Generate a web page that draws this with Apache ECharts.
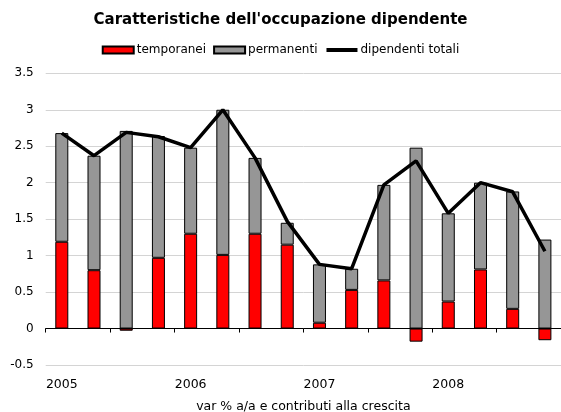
<!DOCTYPE html>
<html>
<head>
<meta charset="utf-8">
<script src="https://cdn.jsdelivr.net/npm/echarts@6/dist/echarts.min.js"></script>
<style>
  html, body { margin: 0; padding: 0; background: #fff; }
  #chart { width: 561px; height: 412px; }
</style>
</head>
<body>
<div id="chart"></div>
<script>
// Quarterly periods 2005 Q1 – 2008 Q4
const quarters = [
  '2005 T1', '2005 T2', '2005 T3', '2005 T4',
  '2006 T1', '2006 T2', '2006 T3', '2006 T4',
  '2007 T1', '2007 T2', '2007 T3', '2007 T4',
  '2008 T1', '2008 T2', '2008 T3', '2008 T4'
];
// Year shown under the first quarter of each year
const yearLabels = ['2005', '', '', '', '2006', '', '', '', '2007', '', '', '', '2008', '', '', ''];

// Contributions to growth (percentage points)
const temporanei = [1.19, 0.80, -0.03, 0.97, 1.30, 1.01, 1.30, 1.15, 0.08, 0.53, 0.66, -0.18, 0.37, 0.81, 0.27, -0.16];
const permanenti = [1.49, 1.57, 2.71, 1.67, 1.18, 1.99, 1.04, 0.30, 0.80, 0.29, 1.31, 2.48, 1.21, 1.19, 1.61, 1.22];
// Year-on-year change of total employees (%)
const dipendentiTotali = [2.68, 2.37, 2.69, 2.63, 2.48, 3.00, 2.34, 1.47, 0.88, 0.82, 1.97, 2.30, 1.58, 2.00, 1.875, 1.06];

const yTicks = { min: -0.5, max: 3.5, interval: 0.5 };

const FONT = 'DejaVu Sans';
const chart = echarts.init(document.getElementById('chart'), null, { renderer: 'canvas' });

chart.setOption({
  animation: false,
  backgroundColor: '#ffffff',
  title: {
    text: "Caratteristiche dell'occupazione dipendente",
    left: 'center',
    top: 8,
    textStyle: { fontFamily: FONT, fontSize: 15, fontWeight: 'bold', color: '#000' }
  },
  legend: {
    top: 39,
    left: 'center',
    itemWidth: 31,
    itemHeight: 7,
    itemGap: 7,
    textStyle: { fontFamily: FONT, fontSize: 12, color: '#000', padding: [0, 0, 0, -2] },
    data: [
      { name: 'temporanei', icon: 'rect' },
      { name: 'permanenti', icon: 'rect' },
      {
        name: 'dipendenti totali',
        itemStyle: { opacity: 0 },
        lineStyle: { color: '#000', width: 4 }
      }
    ]
  },
  grid: {
    left: 45.7, right: 0, top: 73.3, bottom: 47,
    containLabel: false,
    outerBoundsMode: 'none'
  },
  xAxis: [
    {
      type: 'category',
      data: quarters,
      axisLine: { onZero: true, lineStyle: { color: '#000', width: 1 } },
      axisTick: { show: true, length: 4, lineStyle: { color: '#000' } },
      axisLabel: { show: false },
      splitLine: { show: false }
    },
    {
      type: 'category',
      data: yearLabels,
      position: 'bottom',
      axisLine: { show: false, onZero: false },
      axisTick: { show: false },
      axisLabel: {
        interval: 0,
        margin: 13,
        fontFamily: FONT,
        fontSize: 12.5,
        color: '#000'
      },
      name: 'var % a/a e contributi alla crescita',
      nameLocation: 'middle',
      nameGap: 35,
      nameTextStyle: { fontFamily: FONT, fontSize: 12.5, color: '#000' }
    }
  ],
  yAxis: {
    type: 'value',
    min: yTicks.min,
    max: yTicks.max,
    interval: yTicks.interval,
    axisLine: { show: false },
    axisTick: { show: false },
    axisLabel: { margin: 12, fontFamily: FONT, fontSize: 12, color: '#000' },
    splitLine: { show: true, lineStyle: { color: '#d4d4d4', width: 1 } }
  },
  series: [
    {
      name: 'temporanei',
      type: 'bar',
      stack: 'contrib',
      barWidth: 13,
      data: temporanei,
      itemStyle: { color: '#ff0000', borderColor: '#000', borderWidth: 1 }
    },
    {
      name: 'permanenti',
      type: 'bar',
      stack: 'contrib',
      barWidth: 13,
      data: permanenti,
      itemStyle: { color: '#969696', borderColor: '#000', borderWidth: 1 }
    },
    {
      name: 'dipendenti totali',
      type: 'line',
      data: dipendentiTotali,
      symbol: 'none',
      z: 5,
      lineStyle: { color: '#000', width: 3.5 },
      itemStyle: { color: '#000' }
    }
  ]
});
</script>
</body>
</html>
